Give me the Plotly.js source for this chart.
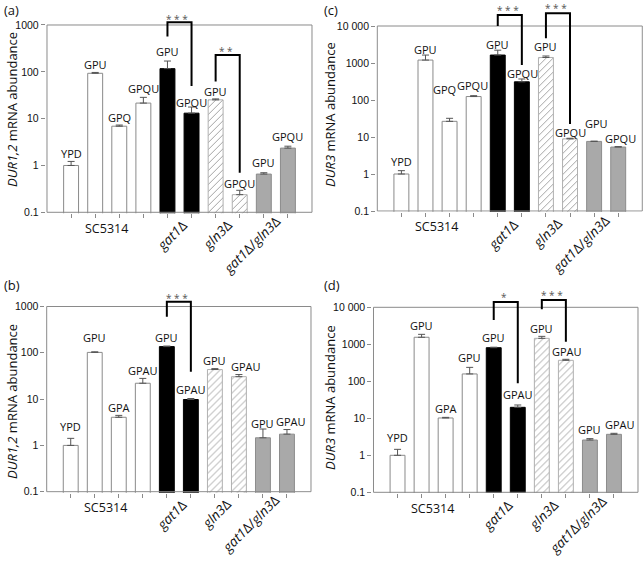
<!DOCTYPE html>
<html><head><meta charset="utf-8">
<script src="https://cdn.plot.ly/plotly-3.0.1.min.js"></script>
<style>html,body{margin:0;padding:0;background:#fff}#chart{width:643px;height:565px}</style>
</head><body><div id="chart"></div>
<script>
// ---------------- data ----------------
const barIndex = [0,1,2,3,4,5,6,7,8,9];
const conditionsA = ['YPD','GPU','GPQ','GPQU','GPU','GPQU','GPU','GPQU','GPU','GPQU'];
const conditionsB = ['YPD','GPU','GPA','GPAU','GPU','GPAU','GPU','GPAU','GPU','GPAU'];
const conditionsC = ['YPD','GPU','GPQ','GPQU','GPU','GPQU','GPU','GPQU','GPU','GPQU'];
const conditionsD = ['YPD','GPU','GPA','GPU','GPU','GPAU','GPU','GPAU','GPU','GPAU'];
const strainLabels = ['SC5314', '<i>gat1</i>Δ', '<i>gln3</i>Δ', '<i>gat1</i>Δ/<i>gln3</i>Δ'];
const strainCenters = [1.45, 4.5, 6.5, 8.5];

const valuesA = [1.0, 93, 6.9, 21.5, 117, 13.1, 25.2, 0.238, 0.655, 2.35];
const errorsA = [0.22, 4, 0.4, 7, 53, 4.6, 1.2, 0.057, 0.045, 0.23];
const valuesB = [1.0, 102, 4.05, 22, 136, 9.8, 43.5, 30.5, 1.46, 1.75];
const errorsB = [0.42, 3, 0.4, 6, 4, 0.5, 2, 3.4, 0.8, 0.45];
const valuesC = [1.0, 1200, 26.5, 124, 1640, 310, 1410, 8.9, 7.6, 5.35];
const errorsC = [0.23, 440, 5.5, 7, 580, 60, 135, 0.35, 0.1, 0.15];
const valuesD = [1.0, 1550, 10.2, 158, 810, 19.8, 1450, 369, 2.59, 3.69];
const errorsD = [0.45, 310, 0.4, 80, 25, 3.1, 190, 24, 0.23, 0.24];

// significance brackets: bar indices, bracket top, ends of left/right legs (data values)
const bracketsA = [
  {from:4, to:5, top:1148, leftEnd:565, rightEnd:50, stars:'* * *'},
  {from:6, to:7, top:230, leftEnd:62, rightEnd:0.70, stars:'* *'}
];
const bracketsB = [
  {from:4, to:5, top:1270, leftEnd:600, rightEnd:39, stars:'* * *'}
];
const bracketsC = [
  {from:4, to:5, top:19800, leftEnd:10000, rightEnd:880, stars:'* * *'},
  {from:6, to:7, top:22000, leftEnd:4650, rightEnd:22.5, stars:'* * *'}
];
const bracketsD = [
  {from:4, to:5, top:13900, leftEnd:4540, rightEnd:88, stars:'*'},
  {from:6, to:7, top:15700, leftEnd:8830, rightEnd:1175, stars:'* * *'}
];

const tickValsLow = [0.1, 1, 10, 100, 1000];
const tickTextLow = ['0.1', '1', '10', '100', '1000'];
const tickValsHigh = [0.1, 1, 10, 100, 1000, 10000];
const tickTextHigh = ['0.1', '1', '10', '100', '1000', '10 000'];
const titleDUR12 = '<i>DUR1,2</i> mRNA abundance';
const titleDUR3 = '<i>DUR3</i> mRNA abundance';

// ---------------- styles ----------------
const W = 643, H = 565;
const fills = ['white','white','white','white','black','black','white','white','#a9a9a9','#a9a9a9'];
const outlines = ['#8a8a8a','#8a8a8a','#8a8a8a','#8a8a8a','black','black','#b0b0b0','#b0b0b0','#8c8c8c','#8c8c8c'];
const hatched = [false,false,false,false,false,false,true,true,false,false];
// rotated strain labels: initial centre offset, and target top-right corner offset (px)
const rotDx = [0, -10, -11.5, -24.5], rotDy = [0, 23.5, 21, 34];
const rotRight = [0, 11.5, 8, 8], rotTop = [0, 4.5, 3.7, 0.5];

const panels = [
  {letter:'(a)', lx:2, ly:10, xa:'x', ya:'y', labels:conditionsA, values:valuesA, errors:errorsA, brackets:bracketsA,
   L:47, R:312, T:25, B:212.3, dec:4, ticks:[tickValsLow,tickTextLow], title:titleDUR12, tx:12, ty:110,
   gaps:[8,8,8,8.5,10,5,7,7,10,9.5], xs:[0,0,0,0,0,0,0,0,0,0], starShift:3.5},
  {letter:'(b)', lx:2, ly:285, xa:'x2', ya:'y2', labels:conditionsB, values:valuesB, errors:errorsB, brackets:bracketsB,
   L:46.7, R:311, T:306.5, B:491.7, dec:4, ticks:[tickValsLow,tickTextLow], title:titleDUR12, tx:12, ty:402,
   gaps:[11.6,14.4,8,7.6,8.7,9,8.3,7.6,5.7,7.6], xs:[0,0,0,0,0,0,0,7,0,4.5], starShift:3.5},
  {letter:'(c)', lx:322, ly:10, xa:'x3', ya:'y3', labels:conditionsC, values:valuesC, errors:errorsC, brackets:bracketsC,
   L:377.3, R:642.3, T:26, B:211, dec:5, ticks:[tickValsHigh,tickTextHigh], title:titleDUR3, tx:330, ty:115,
   gaps:[9,6,29,9.7,6,5,9.3,5.7,18,8.6], xs:[0,0,-5,-1,0,1,0,0,2,2], starShift:5},
  {letter:'(d)', lx:322, ly:285, xa:'x4', ya:'y4', labels:conditionsD, values:valuesD, errors:errorsD, brackets:bracketsD,
   L:373.5, R:638, T:307.3, B:492.3, dec:5, ticks:[tickValsHigh,tickTextHigh], title:titleDUR3, tx:330, ty:398,
   gaps:[12,9.3,9,10,9.7,10,8,8.3,9.4,9.3], xs:[0,0,0,0,0,0,0,1.5,0,6.5], starShift:5.5}
];

const traces = [];
const annotations = [];
const rotList = [];
const layout = {
  width: W, height: H, margin:{l:0,r:0,t:0,b:0}, barmode:'overlay',
  paper_bgcolor:'white', plot_bgcolor:'rgba(0,0,0,0)',
  showlegend:false, font:{family:'Open Sans, sans-serif', color:'#111'},
  annotations: annotations
};

function pick(arr, want) { return arr.filter((_, i) => hatched[i] === want); }

panels.forEach(p => {
  const u = (p.R - p.L) / 11;
  const padL = 0.05;
  const padR = Math.min(0.05, (W - p.R) / u - 0.002);
  const ppd = (p.B - p.T) / p.dec;
  const ext = p.dec === 4 ? 0.15 : 0.4;
  const ymax = (p.dec - 1) + ext, ymin = -1.02;
  const topPx = p.T - ext * ppd, botPx = p.B + 0.02 * ppd;
  const xKey = 'xaxis' + p.xa.slice(1), yKey = 'yaxis' + p.ya.slice(1);
  layout[xKey] = {
    domain:[(p.L - padL*u)/W, (p.R + padR*u)/W], range:[-1-padL, 10+padR], anchor:p.ya,
    showgrid:false, zeroline:false, showline:false, tickmode:'array', tickvals:barIndex,
    ticks:'outside', ticklen:4, tickcolor:'#8a8a8a', showticklabels:false, fixedrange:true
  };
  layout[yKey] = {
    domain:[1 - botPx/H, 1 - topPx/H], type:'log', range:[ymin, ymax], anchor:p.xa,
    showgrid:false, zeroline:false, showline:false, tickmode:'array',
    tickvals:p.ticks[0], ticktext:p.ticks[1], ticks:'outside', ticklen:4, tickcolor:'#8a8a8a',
    tickfont:{family:'Liberation Sans, Arial, sans-serif', size:10.5, color:'#111'}, fixedrange:true
  };
  [false, true].forEach(h => {
    const errs = pick(p.errors, h);
    traces.push({
      type:'bar', x:pick(barIndex, h), y:pick(p.values, h), xaxis:p.xa, yaxis:p.ya, width:0.62, hoverinfo:'skip',
      marker:{color:pick(fills, h), line:{color:pick(outlines, h), width:1}},
      error_y:{type:'data', symmetric:false, array:errs, arrayminus:errs.map(()=>0),
        color:'#555', thickness:1, width:3.5}
    });
  });
  const topVal = Math.pow(10, p.dec - 1);
  traces.push({
    type:'scatter', mode:'lines', x:[-1,10,10,-1,-1], y:[0.1,0.1,topVal,topVal,0.1],
    xaxis:p.xa, yaxis:p.ya, line:{color:'#8a8a8a', width:1}, hoverinfo:'skip'
  });
  const bx = [], by = [];
  p.brackets.forEach(b => {
    bx.push(b.from, b.from, b.to, b.to, null);
    by.push(b.leftEnd, b.top, b.top, b.rightEnd, null);
    annotations.push({xref:p.xa, yref:p.ya, x:(b.from+b.to)/2, y:Math.log10(b.top), text:b.stars,
      showarrow:false, yanchor:'middle', xshift:-2, yshift:p.starShift, font:{size:10, color:'#555'}});
  });
  traces.push({type:'scatter', mode:'lines', x:bx, y:by, xaxis:p.xa, yaxis:p.ya,
    line:{color:'#000', width:2}, connectgaps:false, hoverinfo:'skip'});
  p.labels.forEach((t, i) => {
    annotations.push({xref:p.xa, yref:p.ya, x:i, y:Math.log10(p.values[i] + p.errors[i]), text:t,
      showarrow:false, yanchor:'middle', yshift:p.gaps[i], xshift:p.xs[i], font:{size:11, color:'#111'}});
  });
  strainLabels.forEach((t, k) => {
    if (k === 0) {
      annotations.push({xref:p.xa, yref:p.ya + ' domain', x:strainCenters[k], y:0, text:t, showarrow:false,
        yanchor:'middle', yshift:-15, font:{size:12.5, color:'#111'}});
    } else {
      rotList.push({idx:annotations.length, xa:p.xa, ya:p.ya, x:strainCenters[k], k:k});
      annotations.push({xref:p.xa, yref:p.ya + ' domain', x:strainCenters[k], y:0, text:t, showarrow:false,
        xanchor:'center', yanchor:'middle', xshift:rotDx[k], yshift:-rotDy[k], textangle:-45,
        font:{size:13.5, color:'#111'}});
    }
  });
  annotations.push({xref:'paper', yref:'paper', x:p.tx/W, y:1 - p.ty/H, text:p.title, textangle:-90,
    showarrow:false, xanchor:'center', yanchor:'middle', font:{size:13, color:'#111'}});
  annotations.push({xref:'paper', yref:'paper', x:p.lx/W, y:1 - p.ly/H, text:p.letter,
    showarrow:false, xanchor:'left', yanchor:'middle', font:{size:13, color:'#111'}});
});

function applyHatch(gd) {
  const NS = 'http://www.w3.org/2000/svg';
  const svg = gd.querySelector('svg.main-svg');
  if (!svg.querySelector('#hatchFill')) {
    let defs = svg.querySelector('defs');
    if (!defs) { defs = document.createElementNS(NS, 'defs'); svg.insertBefore(defs, svg.firstChild); }
    const pat = document.createElementNS(NS, 'pattern');
    pat.setAttribute('id', 'hatchFill');
    pat.setAttribute('patternUnits', 'userSpaceOnUse');
    pat.setAttribute('width', '7'); pat.setAttribute('height', '7');
    const bg = document.createElementNS(NS, 'rect');
    bg.setAttribute('width', '7'); bg.setAttribute('height', '7'); bg.setAttribute('fill', 'white');
    const ln = document.createElementNS(NS, 'path');
    ln.setAttribute('d', 'M0,7 L7,0 M-1,1 L1,-1 M6,8 L8,6');
    ln.setAttribute('stroke', '#9a9a9a'); ln.setAttribute('stroke-width', '0.9'); ln.setAttribute('fill', 'none');
    pat.appendChild(bg); pat.appendChild(ln); defs.appendChild(pat);
  }
  gd.querySelectorAll('.barlayer .point path').forEach(el => {
    const s = (el.style.stroke || '').replace(/\s/g, '');
    if (s === 'rgb(176,176,176)') el.style.fill = 'url(#hatchFill)';
  });
}

Plotly.newPlot('chart', traces, layout, {staticPlot:true, displayModeBar:false}).then(gd => {
  applyHatch(gd);
  // place each rotated strain label so its box's top-right corner sits just below the axis
  const fl = gd._fullLayout;
  const root = gd.getBoundingClientRect();
  const groups = gd.querySelectorAll('g.annotation');
  const upd = {};
  rotList.forEach(r => {
    const ax = fl['xaxis' + r.xa.slice(1)], ay = fl['yaxis' + r.ya.slice(1)];
    const cx = ax._offset + ax.l2p(r.x);
    const fb = ay._offset + ay.l2p(-1);
    const g = gd.querySelector('g.annotation[data-index="' + r.idx + '"]') || groups[r.idx];
    const el = g && g.querySelector('text');
    if (!el) return;
    const bb = el.getBoundingClientRect();
    const curR = bb.right - root.left, curT = bb.top - root.top;
    const tR = cx + rotRight[r.k], tT = fb + rotTop[r.k];
    upd['annotations[' + r.idx + '].xshift'] = annotations[r.idx].xshift + (tR - curR);
    upd['annotations[' + r.idx + '].yshift'] = annotations[r.idx].yshift - (tT - curT);
  });
  return Plotly.relayout(gd, upd).then(() => applyHatch(gd));
});
</script>
</body></html>
